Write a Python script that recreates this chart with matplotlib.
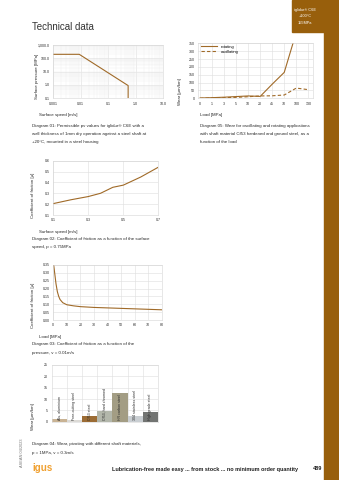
import matplotlib
matplotlib.use("Agg")
import matplotlib.pyplot as plt
import numpy as np
from matplotlib.patches import Rectangle
from matplotlib.ticker import FixedLocator, NullFormatter

plt.rcParams['font.family'] = ['Liberation Sans', 'DejaVu Sans']

W, H = 339, 480
BROWN = '#985f0c'
LINE = '#a06a28'
GRID = '#dedede'
TXT = '#2a2a2a'

# diagram 01: pv values
pv_speed = [0.001, 0.009, 0.54, 0.54]
pv_pressure = [200, 200, 0.9, 0.1]

# diagram 05: wear vs load
load_cats = ["0", "1", "3", "5", "10", "20", "45", "70", "100", "130"]
wear_rotating = [2, 4, 7, 11, 15, 12, 90, 165, 420, np.nan]
wear_oscillating = [0, 2, 4, 6, 10, 15, 16, 21, 65, 55]

# diagram 02: cof vs surface speed
cof_speed = [0.1, 0.2, 0.3, 0.37, 0.44, 0.5, 0.6, 0.7]
cof_speed_val = [0.205, 0.24, 0.27, 0.30, 0.355, 0.375, 0.45, 0.54]

# diagram 03: cof vs load
cof_load = [0.3, 1, 2, 3, 4, 5, 7, 10, 15, 20, 30, 40, 50, 60, 70, 80]
cof_load_val = [0.35, 0.30, 0.23, 0.18, 0.15, 0.13, 0.11, 0.097, 0.09, 0.085,
                0.08, 0.077, 0.074, 0.071, 0.068, 0.065]

# diagram 04: wear with different shaft materials
materials = ["Alu, aluminium", "Free-cutting steel", "Cf53 steel",
             "Cf53, hard chromed", "HR carbon steel", "304 stainless steel",
             "High grade steel"]
material_wear = [1.2, 0.6, 2.3, 4.8, 12.7, 2.6, 4.1]
material_colors = ['#c9b394', '#dcdad6', '#9c6c34', '#b3b7ab', '#a39d84',
                   '#c9ced2', '#727472']

fig = plt.figure(figsize=(W / 100, H / 100), dpi=100)


def px_axes(left, top, right, bottom):
    return fig.add_axes([left / W, 1 - bottom / H, (right - left) / W, (bottom - top) / H])


def ftext(x, y, s, **kw):
    kw.setdefault('fontsize', 3.2)
    kw.setdefault('color', TXT)
    kw.setdefault('va', 'center')
    return fig.text(x / W, 1 - y / H, s, **kw)


def style(ax):
    for sp in ax.spines.values():
        sp.set_color('#d4d4d4')
        sp.set_linewidth(0.4)
    ax.tick_params(length=0, labelsize=2.6, colors=TXT, pad=2.5)
    ax.set_axisbelow(True)
    ax.grid(True, color=GRID, lw=0.4)


# page furniture
fig.patches.append(Rectangle((324 / W, 0), 15 / W, 1, transform=fig.transFigure,
                             color=BROWN, zorder=0))
fig.patches.append(Rectangle((292 / W, 1 - 32 / H), 47 / W, 32 / H,
                             transform=fig.transFigure, color=BROWN, zorder=0))
ftext(305, 10, "iglidur® C6E", fontsize=2.8, color='white', ha='center')
ftext(305, 16, "+100°C", fontsize=2.8, color='white', ha='center')
ftext(305, 22.5, "155MPa", fontsize=2.8, color='white', ha='center')
ftext(32, 27, "Technical data", fontsize=7, color='#333333', ha='left')

# diagram 01
ax1 = px_axes(53, 45, 163, 98.3)
style(ax1)
ax1.plot(pv_speed, pv_pressure, color=LINE, lw=0.8)
ax1.set_xscale('log')
ax1.set_yscale('log')
ax1.set_xlim(0.001, 10)
ax1.set_ylim(0.1, 1000)
ax1.set_xticks([0.001, 0.01, 0.1, 1, 10])
ax1.set_xticklabels(["0.001", "0.01", "0.1", "1.0", "10.0"])
ax1.set_yticks([0.1, 1, 10, 100, 1000])
ax1.set_yticklabels(["0.1", "1.0", "10.0", "100.0", "1,000.0"])
ax1.xaxis.set_minor_formatter(NullFormatter())
ax1.yaxis.set_minor_formatter(NullFormatter())
ax1.tick_params(which='minor', length=0)
ax1.grid(True, which='minor', color='#eeeeee', lw=0.3)
ftext(37, 76, "Surface pressure [MPa]", rotation=90, ha='center')
ftext(39, 115, "Surface speed [m/s]", ha='left')
ftext(32, 126, "Diagram 01: Permissible pv values for iglidur® C6E with a", ha='left')
ftext(32, 134, "wall thickness of 1mm dry operation against a steel shaft at", ha='left')
ftext(32, 142, "+20°C, mounted in a steel housing", ha='left')

# diagram 05
ax2 = px_axes(198, 43.3, 313, 98.3)
style(ax2)
xc = np.arange(len(load_cats))
ax2.plot(xc, wear_rotating, color=LINE, lw=0.8, label="rotating")
ax2.plot(xc, wear_oscillating, color=LINE, lw=0.8, ls=(0, (3, 2)), label="oscillating")
ax2.set_xlim(-0.17, 9.39)
ax2.set_ylim(0, 350)
ax2.set_xticks(xc)
ax2.set_xticklabels(load_cats)
ax2.set_yticks(np.arange(0, 351, 50))
ax2.legend(loc='upper left', bbox_to_anchor=(0.0, 1.02), frameon=False,
           fontsize=3.0, handlelength=4, handletextpad=0.8, labelspacing=0.3,
           borderaxespad=0.2)
ftext(180, 92, "Wear [µm/km]", rotation=90, ha='center')
ftext(200, 115, "Load [MPa]", ha='left')
ftext(200, 126, "Diagram 05: Wear for oscillating and rotating applications", ha='left')
ftext(200, 134, "with shaft material Cf53 hardened and ground steel, as a", ha='left')
ftext(200, 142, "function of the load", ha='left')

# diagram 02
ax3 = px_axes(53.3, 160.7, 158.3, 215)
style(ax3)
ax3.plot(cof_speed, cof_speed_val, color=LINE, lw=0.8)
ax3.set_xlim(0.1, 0.7)
ax3.set_ylim(0.1, 0.6)
ax3.set_xticks([0.1, 0.3, 0.5, 0.7])
ax3.set_xticklabels(["0.1", "0.3", "0.5", "0.7"])
ax3.set_yticks([0.1, 0.2, 0.3, 0.4, 0.5, 0.6])
ax3.set_yticklabels(["0.1", "0.2", "0.3", "0.4", "0.5", "0.6"])
ftext(33, 195, "Coefficient of friction [µ]", rotation=90, ha='center')
ftext(39, 231.7, "Surface speed [m/s]", ha='left')
ftext(32, 239, "Diagram 02: Coefficient of friction as a function of the surface", ha='left')
ftext(32, 247, "speed, p = 0.75MPa", ha='left')

# diagram 03
ax4 = px_axes(53.3, 265, 161.7, 320)
style(ax4)
ax4.plot(cof_load, cof_load_val, color=LINE, lw=0.8)
ax4.set_xlim(0, 80)
ax4.set_ylim(0, 0.35)
ax4.set_xticks(np.arange(0, 81, 10))
ax4.set_yticks(np.arange(0, 0.351, 0.05))
ax4.set_yticklabels(["%.2f" % v for v in np.arange(0, 0.351, 0.05)])
ftext(33, 305, "Coefficient of friction [µ]", rotation=90, ha='center')
ftext(39, 336.7, "Load [MPa]", ha='left')
ftext(32, 344.5, "Diagram 03: Coefficient of friction as a function of the", ha='left')
ftext(32, 352.7, "pressure, v = 0.01m/s", ha='left')

# diagram 04
ax5 = px_axes(51.7, 365, 158, 421.7)
style(ax5)
xb = np.arange(len(materials))
ax5.bar(xb, material_wear, width=1.0, color=material_colors)
for i, name in enumerate(materials):
    ax5.text(i, 0.8, name, rotation=90, ha='center', va='bottom',
             fontsize=2.6, color=TXT)
ax5.set_xlim(-0.5, len(materials) - 0.5)
ax5.set_ylim(0, 25)
ax5.set_xticks([])
ax5.xaxis.set_minor_locator(FixedLocator(xb[:-1] + 0.5))
ax5.tick_params(which='minor', length=0)
ax5.grid(True, which='minor', axis='x', color=GRID, lw=0.4)
ax5.set_yticks(np.arange(0, 26, 5))
ftext(33, 417, "Wear [µm/km]", rotation=90, ha='center')
ftext(32, 444.5, "Diagram 04: Wear, pivoting with different shaft materials,", ha='left')
ftext(32, 453, "p = 1MPa, v = 0.3m/s", ha='left')

# footer
ftext(21.7, 453, "ASEAN 04/2023", rotation=90, ha='center', fontsize=2.8, color='#777777')
ftext(32, 468, "igus", fontsize=7, color='#f0a030', fontweight='bold', ha='left')
ftext(112, 469, "Lubrication-free made easy ... from stock ... no minimum order quantity",
      fontsize=4.0, ha='left', fontweight='bold', color='#222222')
ftext(318, 469, "489", fontsize=4.0, ha='center', fontweight='bold', color='#222222')

fig.savefig("out.png", dpi=100)
